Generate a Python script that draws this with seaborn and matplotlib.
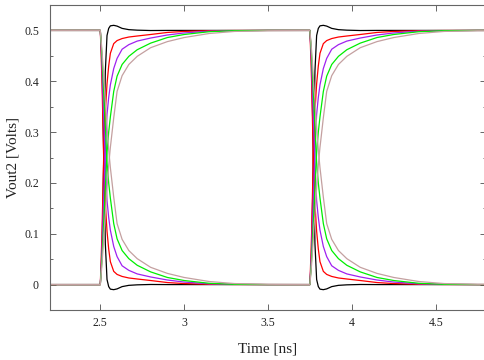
import numpy as np
import pandas as pd
import matplotlib
matplotlib.use("Agg")
import matplotlib.pyplot as plt
import seaborn as sns
from matplotlib.ticker import MultipleLocator

# ---------------- data ----------------
VDD = 0.5
EDGES = [2.5, 3.75]            # switching instants [ns]
T_START, T_END = 2.2, 4.8      # simulated window [ns]

# time after a switching edge [ns]
T_REL = [0.0, 0.01, 0.02, 0.03, 0.04, 0.05, 0.06, 0.08, 0.10, 0.13,
         0.17, 0.22, 0.30, 0.40, 0.50, 0.65, 0.80, 1.00]

# rising-edge response of each load case [V]
RISE_BLACK = [0.0, 0.06, 0.24, 0.42, 0.49, 0.504, 0.509, 0.5100, 0.5085, 0.504,
              0.5015, 0.5005, 0.4998, 0.5, 0.5, 0.5, 0.5, 0.5]
RISE_RED = [0.0, 0.10, 0.25, 0.34, 0.395, 0.43, 0.455, 0.474, 0.480, 0.484,
            0.487, 0.489, 0.492, 0.496, 0.498, 0.4995, 0.4998, 0.5]
RISE_PURPLE = [0.0, 0.07, 0.17, 0.265, 0.335, 0.368, 0.393, 0.425, 0.445, 0.463,
               0.472, 0.479, 0.485, 0.491, 0.495, 0.4985, 0.4995, 0.5]
RISE_GREEN = [0.0, 0.05, 0.12, 0.19, 0.26, 0.30, 0.33, 0.38, 0.41, 0.433,
              0.449, 0.462, 0.475, 0.486, 0.492, 0.4975, 0.4995, 0.5]
RISE_ROSY = [0.0, 0.04, 0.09, 0.14, 0.19, 0.235, 0.27, 0.328, 0.38, 0.411,
             0.433, 0.449, 0.466, 0.478, 0.486, 0.494, 0.498, 0.4995]

CASES = ["black", "red", "purple", "green", "rosy"]
RISES = [RISE_BLACK, RISE_RED, RISE_PURPLE, RISE_GREEN, RISE_ROSY]
COLORS = ["#000000", "#ff0000", "#a020f0", "#00ee00", "#c4a0a0"]

X_TICKS = [2.5, 3, 3.5, 4, 4.5]
X_TICK_LABELS = ["2.5", "3", "3.5", "4", "4.5"]
Y_TICKS = [0, 0.1, 0.2, 0.3, 0.4, 0.5]
Y_TICK_LABELS = ["0", "0.1", "0.2", "0.3", "0.4", "0.5"]

# ---------------- build traces ----------------
rows = []
for case, rise in zip(CASES, RISES):
    rise = np.asarray(rise)
    fall = VDD - rise
    for start_high in (False, True):
        level = VDD if start_high else 0.0
        t = [T_START]
        v = [level]
        high = start_high
        for e in EDGES:
            t += [e + d for d in T_REL]
            v += list(fall if high else rise)
            high = not high
        t.append(T_END)
        v.append(v[-1])
        trace = f"{case}_{int(start_high)}"
        rows += [dict(time=a, volt=b, case=case, trace=trace) for a, b in zip(t, v)]
df = pd.DataFrame(rows)

# ---------------- plot ----------------
sns.set_style("ticks")
plt.rcParams["font.family"] = ["Liberation Serif", "DejaVu Serif"]

fig = plt.figure(figsize=(4.84, 3.6), dpi=100)
ax = fig.add_axes([50 / 484, 50 / 360, 436 / 484, 305 / 360])

sns.lineplot(data=df, x="time", y="volt", hue="case", units="trace",
             estimator=None, sort=False, palette=dict(zip(CASES, COLORS)),
             hue_order=CASES, linewidth=0.9, legend=False, ax=ax)

ax.set_xlim(T_START, T_END)
ax.set_ylim(-0.05, 0.55)
ax.set_xticks(X_TICKS)
ax.set_xticklabels(X_TICK_LABELS)
ax.set_yticks(Y_TICKS)
ax.set_yticklabels(Y_TICK_LABELS)
ax.yaxis.set_minor_locator(MultipleLocator(0.05))

for s in ax.spines.values():
    s.set_color("#666666")
    s.set_linewidth(0.8)
ax.tick_params(which="both", direction="in", top=True, right=True,
               color="#666666", width=0.7, labelcolor="#222222")
ax.tick_params(which="major", length=4, labelsize=8.5)
ax.tick_params(axis="y", which="major", pad=8)
ax.tick_params(axis="x", which="major", pad=5)
ax.tick_params(which="minor", length=2)

ax.set_xlabel("Time [ns]", fontsize=11, color="#222222")
ax.set_ylabel("Vout2 [Volts]", fontsize=11, color="#222222")
ax.xaxis.set_label_coords(0.5, -0.105)
ax.yaxis.set_label_coords(-0.07, 0.5)

fig.savefig("out.png", dpi=100)
